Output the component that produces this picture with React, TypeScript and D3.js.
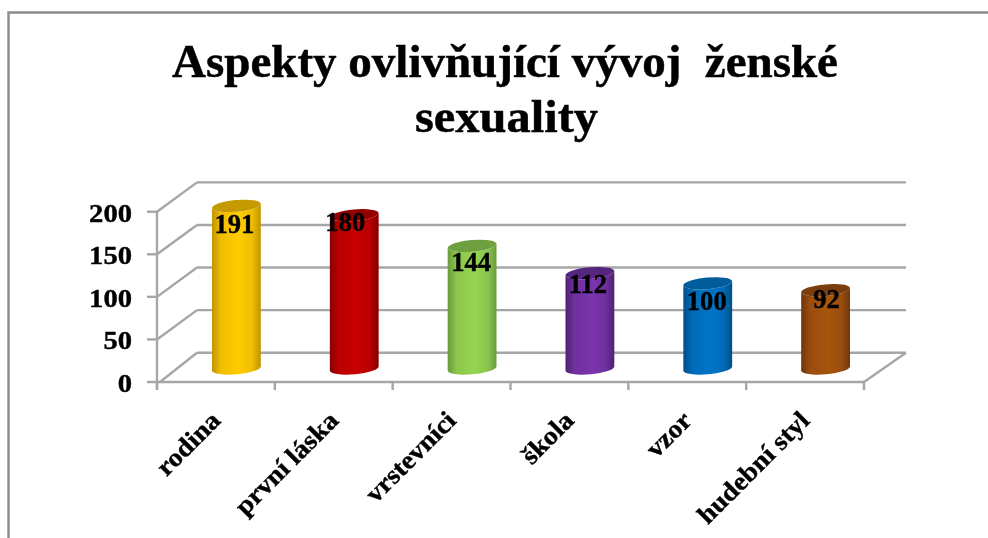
import React from "react";
import * as d3 from "d3";

const categories = ["rodina", "první láska", "vrstevníci", "škola", "vzor", "hudební styl"];
const values = [191, 180, 144, 112, 100, 92];
const yTicks = [0, 50, 100, 150, 200];
const titleLine1 = "Aspekty ovlivňující vývoj\u00A0\u00A0ženské";
const titleLine2 = "sexuality";
const bodyCenter = ["#FFCC00", "#C80000", "#96D452", "#7A35AC", "#0074C8", "#A8540E"];
const bodyEdge = ["#C09400", "#860000", "#6A9A3C", "#4E2272", "#004F86", "#6E3608"];
const capFill = ["#C49A00", "#920000", "#6F9F40", "#56267E", "#005C9A", "#7A3C08"];
const labelNudgeX = [-2, -9, -1, -2, -1, 1];
const labelNudgeY = [27, 16, 25, 20, 27, 18];

const W = 988, H = 538;
const depthX = 40, depthY = -29.3;
const rx = 24.5, ry = 5.8, tilt = -5;
const grid = "#a6a6a6";
const serif = "'Liberation Serif', serif";

const y = d3.scaleLinear().domain([0, 200]).range([382, 211.7]);
const x = d3.scaleBand<string>().domain(categories).range([157, 864]);

export default function App() {
  const band = x.bandwidth();
  const tiltRad = (tilt * Math.PI) / 180;
  const dxe = rx * Math.cos(tiltRad), dye = rx * Math.sin(tiltRad);
  const tickXs = [...categories.map((c) => x(c)!), 864];
  return (
    <svg width={W} height={H} viewBox={`0 0 ${W} ${H}`} style={{ position: "absolute", left: 0, top: 0, display: "block", background: "#fff" }}>
      <defs>
        <filter id="soft" x="-5%" y="-5%" width="110%" height="110%">
          <feGaussianBlur stdDeviation="0.5" />
        </filter>
        {categories.map((c, i) => (
          <linearGradient key={c} id={`g${i}`} x1="0" x2="1" y1="0" y2="0">
            <stop offset="0" stopColor={bodyEdge[i]} />
            <stop offset="0.18" stopColor={d3.interpolateRgb(bodyEdge[i], bodyCenter[i])(0.75)} />
            <stop offset="0.55" stopColor={bodyCenter[i]} />
            <stop offset="0.82" stopColor={d3.interpolateRgb(bodyEdge[i], bodyCenter[i])(0.75)} />
            <stop offset="1" stopColor={bodyEdge[i]} />
          </linearGradient>
        ))}
      </defs>

      <path d="M8.5 538 V12.5 H988" fill="none" stroke="#8c8c8c" strokeWidth={2.4} />

      <g filter="url(#soft)" fontFamily={serif} fontWeight="bold" fill="#000" stroke="#000" strokeWidth={0.5}>
        <text x={172} y={76.5} fontSize={47} textLength={666} lengthAdjust="spacingAndGlyphs">{titleLine1}</text>
        <text x={415} y={131.5} fontSize={47} textLength={183} lengthAdjust="spacingAndGlyphs">{titleLine2}</text>
      </g>

      <g filter="url(#soft)">
        <g stroke={grid} strokeWidth={2.4} fill="none">
          {yTicks.map((t) => (
            <g key={t}>
              <line x1={147} x2={157} y1={y(t)} y2={y(t)} />
              <line x1={t === 0 ? 160 : 157} y1={y(t)} x2={157 + depthX} y2={y(t) + depthY} />
              <line x1={157 + depthX} x2={864 + depthX + 2} y1={y(t) + depthY} y2={y(t) + depthY} />
            </g>
          ))}
          <line x1={157} x2={157} y1={y(200)} y2={390} />
          <line x1={157} x2={864} y1={y(0)} y2={y(0)} />
          <line x1={864} y1={y(0)} x2={864 + depthX + 2} y2={y(0) + depthY} />
          {tickXs.map((tx) => (
            <line key={tx} x1={tx} x2={tx} y1={y(0)} y2={390} />
          ))}
        </g>

        {categories.map((c, i) => {
          const cx = x(c)! + band / 2 + 20.5;
          const by = y(0) - 13.5;
          const ty = y(values[i]) - 13.5;
          const body = `M${cx - dxe} ${ty - dye} L${cx - dxe} ${by - dye} A${rx} ${ry} ${tilt} 0 0 ${cx + dxe} ${by + dye} L${cx + dxe} ${ty + dye} A${rx} ${ry} ${tilt} 0 1 ${cx - dxe} ${ty - dye} Z`;
          return (
            <g key={c}>
              <path d={body} fill={`url(#g${i})`} />
              <ellipse cx={cx} cy={ty} rx={rx} ry={ry} fill={capFill[i]} transform={`rotate(${tilt} ${cx} ${ty})`} />
            </g>
          );
        })}
      </g>

      <g filter="url(#soft)" fontFamily={serif} fontWeight="bold" fill="#000" stroke="#000" strokeWidth={0.4}>
        {categories.map((c, i) => (
          <text
            key={c}
            x={0}
            y={0}
            fontSize={28}
            textAnchor="middle"
            transform={`translate(${x(c)! + band / 2 + 20.5 + labelNudgeX[i]} ${y(values[i]) - 13.5 + labelNudgeY[i]}) scale(0.95 1)`}
          >
            {values[i]}
          </text>
        ))}
        {yTicks.map((t) => (
          <text key={t} x={132} y={y(t) + 10} fontSize={26} textAnchor="end" transform={`translate(132 0) scale(1.1 1) translate(-132 0)`}>
            {t}
          </text>
        ))}
        {categories.map((c) => {
          const ax = x(c)! + band / 2 + 6;
          return (
            <text key={c} x={0} y={0} fontSize={26} textAnchor="end" transform={`translate(${ax} 422) rotate(-45) scale(1.07 1)`}>
              {c}
            </text>
          );
        })}
      </g>
    </svg>
  );
}
